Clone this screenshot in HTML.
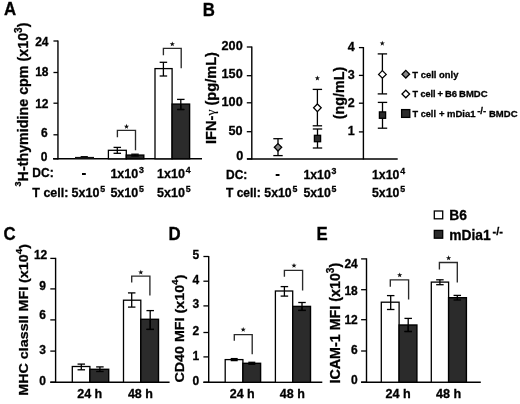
<!DOCTYPE html>
<html><head><meta charset="utf-8"><style>
html,body{margin:0;padding:0;background:#fff;width:520px;height:404px;overflow:hidden}
svg{display:block;filter:blur(0.3px)}
text{font-family:"Liberation Sans", sans-serif;fill:#000;stroke:#000;stroke-width:0.3px}
</style></head><body>
<svg width="520" height="404" viewBox="0 0 520 404">
<text x="0" y="0" font-size="16.8" font-weight="bold" transform="translate(3.9,15.3) scale(1,1.07)">A</text>
<line x1="57.95" y1="40.4" x2="57.95" y2="159.4" stroke="#000" stroke-width="1.4"/>
<line x1="53.45" y1="41.0" x2="57.95" y2="41.0" stroke="#000" stroke-width="1.3"/>
<text x="48.5" y="45.5" font-size="12" text-anchor="end" font-weight="bold" >24</text>
<line x1="53.45" y1="72.5" x2="57.95" y2="72.5" stroke="#000" stroke-width="1.3"/>
<text x="48.5" y="76.2" font-size="12" text-anchor="end" font-weight="bold" >18</text>
<line x1="53.45" y1="103.2" x2="57.95" y2="103.2" stroke="#000" stroke-width="1.3"/>
<text x="48.5" y="107.5" font-size="12" text-anchor="end" font-weight="bold" >12</text>
<line x1="53.45" y1="134.8" x2="57.95" y2="134.8" stroke="#000" stroke-width="1.3"/>
<text x="47.7" y="137.1" font-size="12" text-anchor="end" font-weight="bold" >6</text>
<line x1="53.45" y1="158.8" x2="57.95" y2="158.8" stroke="#000" stroke-width="1.3"/>
<text x="47.5" y="160.6" font-size="12" text-anchor="end" font-weight="bold" >0</text>
<line x1="53" y1="158.8" x2="202" y2="158.8" stroke="#000" stroke-width="1.5"/>
<text x="0" y="0" font-size="14.3" text-anchor="middle" font-weight="bold" transform="translate(22.6,104.5) rotate(-90)" dominant-baseline="central"><tspan font-size="9" dy="-4.6">3</tspan><tspan dy="4.6">H-thymidine cpm (x10</tspan><tspan font-size="10" dy="-5">3</tspan><tspan dy="5">)</tspan></text>
<rect x="75" y="156.9" width="19" height="2.0" fill="#111"/>
<rect x="80.5" y="156.0" width="7.5" height="1.2" rx="0.6" fill="#111"/>
<rect x="108.4" y="150.3" width="17.89999999999999" height="8.5" fill="#fff" stroke="#000" stroke-width="1.3"/>
<rect x="126.3" y="155.1" width="17.500000000000014" height="3.700000000000017" fill="#2b2b2b" stroke="#000" stroke-width="1.4"/>
<line x1="117.3" y1="147.4" x2="117.3" y2="153.3" stroke="#000" stroke-width="1.3"/>
<line x1="113.55" y1="147.4" x2="121.05" y2="147.4" stroke="#000" stroke-width="1.3"/>
<line x1="113.55" y1="153.3" x2="121.05" y2="153.3" stroke="#000" stroke-width="1.3"/>
<line x1="135.0" y1="154.2" x2="135.0" y2="156" stroke="#000" stroke-width="1.3"/>
<line x1="131.25" y1="154.2" x2="138.75" y2="154.2" stroke="#000" stroke-width="1.3"/>
<line x1="131.25" y1="156" x2="138.75" y2="156" stroke="#000" stroke-width="1.3"/>
<polyline points="117.4,137.2 117.4,130.4 135.5,130.4 135.5,150.3" fill="none" stroke="#2a2a2a" stroke-width="1.35"/>
<polygon points="126.50,123.86 127.17,125.64 129.07,125.72 127.58,126.91 128.09,128.74 126.50,127.69 124.91,128.74 125.42,126.91 123.93,125.72 125.83,125.64" fill="#111"/>
<rect x="155.0" y="68.6" width="17.099999999999994" height="90.20000000000002" fill="#fff" stroke="#000" stroke-width="1.3"/>
<rect x="172.1" y="104.1" width="17.5" height="54.70000000000002" fill="#2b2b2b" stroke="#000" stroke-width="1.4"/>
<line x1="163.4" y1="62.3" x2="163.4" y2="76" stroke="#000" stroke-width="1.3"/>
<line x1="159.65" y1="62.3" x2="167.15" y2="62.3" stroke="#000" stroke-width="1.3"/>
<line x1="159.65" y1="76" x2="167.15" y2="76" stroke="#000" stroke-width="1.3"/>
<line x1="180.8" y1="99.4" x2="180.8" y2="109.5" stroke="#000" stroke-width="1.3"/>
<line x1="177.05" y1="99.4" x2="184.55" y2="99.4" stroke="#000" stroke-width="1.3"/>
<line x1="177.05" y1="109.5" x2="184.55" y2="109.5" stroke="#000" stroke-width="1.3"/>
<line x1="177.5" y1="109.5" x2="184.1" y2="109.5" stroke="#000" stroke-width="1.3"/>
<line x1="180.8" y1="104.5" x2="180.8" y2="109.5" stroke="#000" stroke-width="1.3"/>
<polyline points="163.4,55.3 163.4,48.4 181.2,48.4 181.2,68.2" fill="none" stroke="#2a2a2a" stroke-width="1.35"/>
<polygon points="172.30,41.46 172.97,43.24 174.87,43.32 173.38,44.51 173.89,46.34 172.30,45.29 170.71,46.34 171.22,44.51 169.73,43.32 171.63,43.24" fill="#111"/>
<text x="32.3" y="176.9" font-size="12" text-anchor="start" font-weight="bold" >DC:</text>
<rect x="82.0" y="173.0" width="3.8" height="2.0" fill="#000"/>
<text x="110.4" y="177.6" font-size="12.5" text-anchor="start" font-weight="bold" >1x10<tspan font-size="8.8" dx="0.8" dy="-5.0">3</tspan></text>
<text x="157.1" y="177.6" font-size="12.5" text-anchor="start" font-weight="bold" >1x10<tspan font-size="8.8" dx="0.8" dy="-5.0">4</tspan></text>
<text x="32.3" y="196.6" font-size="12.5" text-anchor="start" font-weight="bold" >T cell:</text>
<text x="71.6" y="196.6" font-size="12.5" text-anchor="start" font-weight="bold" >5x10<tspan font-size="8.8" dx="0.8" dy="-5.0">5</tspan></text>
<text x="110.4" y="196.6" font-size="12.5" text-anchor="start" font-weight="bold" >5x10<tspan font-size="8.8" dx="0.8" dy="-5.0">5</tspan></text>
<text x="157.1" y="196.6" font-size="12.5" text-anchor="start" font-weight="bold" >5x10<tspan font-size="8.8" dx="0.8" dy="-5.0">5</tspan></text>
<text x="0" y="0" font-size="16.8" font-weight="bold" transform="translate(202.8,15.8) scale(1,1.07)">B</text>
<line x1="251.8" y1="46.4" x2="251.8" y2="159.5" stroke="#000" stroke-width="1.4"/>
<line x1="246.8" y1="47.0" x2="251.8" y2="47.0" stroke="#000" stroke-width="1.3"/>
<text x="242.7" y="49.8" font-size="12.7" text-anchor="end" font-weight="bold" >200</text>
<line x1="246.8" y1="75.7" x2="251.8" y2="75.7" stroke="#000" stroke-width="1.3"/>
<text x="242.7" y="78.3" font-size="12.7" text-anchor="end" font-weight="bold" >150</text>
<line x1="246.8" y1="102.8" x2="251.8" y2="102.8" stroke="#000" stroke-width="1.3"/>
<text x="242.7" y="106.3" font-size="12.7" text-anchor="end" font-weight="bold" >100</text>
<line x1="246.8" y1="131.7" x2="251.8" y2="131.7" stroke="#000" stroke-width="1.3"/>
<text x="242.7" y="135.1" font-size="12.7" text-anchor="end" font-weight="bold" >50</text>
<line x1="246.8" y1="158.9" x2="251.8" y2="158.9" stroke="#000" stroke-width="1.3"/>
<text x="243.3" y="160.0" font-size="12.7" text-anchor="end" font-weight="bold" >0</text>
<line x1="247" y1="158.9" x2="397.7" y2="158.9" stroke="#000" stroke-width="1.5"/>
<line x1="363.4" y1="47.0" x2="363.4" y2="159.5" stroke="#000" stroke-width="1.4"/>
<line x1="358.9" y1="47.6" x2="363.4" y2="47.6" stroke="#000" stroke-width="1.3"/>
<text x="354.7" y="51.1" font-size="12.5" text-anchor="end" font-weight="bold" >4</text>
<line x1="358.9" y1="75.4" x2="363.4" y2="75.4" stroke="#000" stroke-width="1.3"/>
<text x="354.7" y="78.8" font-size="12.5" text-anchor="end" font-weight="bold" >3</text>
<line x1="358.9" y1="103.2" x2="363.4" y2="103.2" stroke="#000" stroke-width="1.3"/>
<text x="354.7" y="106.8" font-size="12.5" text-anchor="end" font-weight="bold" >2</text>
<line x1="358.9" y1="131.9" x2="363.4" y2="131.9" stroke="#000" stroke-width="1.3"/>
<text x="354.7" y="135.4" font-size="12.5" text-anchor="end" font-weight="bold" >1</text>
<text x="0" y="0" font-size="14.6" text-anchor="middle" font-weight="bold" transform="translate(211.3,98.0) rotate(-90)" dominant-baseline="central">IFN-<tspan font-family="Liberation Serif" font-weight="normal" font-size="13.5" dy="-1.6" stroke-width="0.15">&#947;</tspan><tspan dy="1.6"> (pg/mL)</tspan></text>
<text x="0" y="0" font-size="14.3" text-anchor="middle" font-weight="bold" transform="translate(338.6,92.95) rotate(-90)" dominant-baseline="central">(ng/mL)</text>
<line x1="278" y1="138.7" x2="278" y2="155.6" stroke="#000" stroke-width="1.3"/>
<line x1="273.3" y1="138.7" x2="282.7" y2="138.7" stroke="#000" stroke-width="1.3"/>
<line x1="273.3" y1="155.6" x2="282.7" y2="155.6" stroke="#000" stroke-width="1.3"/>
<polygon points="278,143.60000000000002 281.7,147.3 278,151.0 274.3,147.3" fill="#888" stroke="#000" stroke-width="1.3"/>
<line x1="317.4" y1="89.4" x2="317.4" y2="125.8" stroke="#000" stroke-width="1.3"/>
<line x1="312.7" y1="89.4" x2="322.09999999999997" y2="89.4" stroke="#000" stroke-width="1.3"/>
<line x1="312.7" y1="125.8" x2="322.09999999999997" y2="125.8" stroke="#000" stroke-width="1.3"/>
<polygon points="317.4,104.0 321.2,107.8 317.4,111.6 313.59999999999997,107.8" fill="#fff" stroke="#000" stroke-width="1.3"/>
<line x1="317.5" y1="129" x2="317.5" y2="148" stroke="#000" stroke-width="1.3"/>
<line x1="312.8" y1="129" x2="322.2" y2="129" stroke="#000" stroke-width="1.3"/>
<line x1="312.8" y1="148" x2="322.2" y2="148" stroke="#000" stroke-width="1.3"/>
<rect x="314.4" y="135.3" width="6.2000000000000455" height="6.399999999999977" fill="#2b2b2b" stroke="#000" stroke-width="1.3"/>
<polygon points="317.40,75.56 318.07,77.34 319.97,77.42 318.48,78.61 318.99,80.44 317.40,79.39 315.81,80.44 316.32,78.61 314.83,77.42 316.73,77.34" fill="#111"/>
<line x1="382.4" y1="53.9" x2="382.4" y2="93.9" stroke="#000" stroke-width="1.3"/>
<line x1="377.7" y1="53.9" x2="387.09999999999997" y2="53.9" stroke="#000" stroke-width="1.3"/>
<line x1="377.7" y1="93.9" x2="387.09999999999997" y2="93.9" stroke="#000" stroke-width="1.3"/>
<polygon points="382.4,70.60000000000001 386.2,74.4 382.4,78.2 378.59999999999997,74.4" fill="#fff" stroke="#000" stroke-width="1.3"/>
<line x1="382.5" y1="102.4" x2="382.5" y2="128.2" stroke="#000" stroke-width="1.3"/>
<line x1="377.8" y1="102.4" x2="387.2" y2="102.4" stroke="#000" stroke-width="1.3"/>
<line x1="377.8" y1="128.2" x2="387.2" y2="128.2" stroke="#000" stroke-width="1.3"/>
<rect x="379.4" y="111.9" width="6.2000000000000455" height="6.3999999999999915" fill="#2b2b2b" stroke="#000" stroke-width="1.3"/>
<polygon points="382.30,40.76 382.97,42.54 384.87,42.62 383.38,43.81 383.89,45.64 382.30,44.59 380.71,45.64 381.22,43.81 379.73,42.62 381.63,42.54" fill="#111"/>
<polygon points="405.8,70.4 409.6,74.2 405.8,78.0 402.0,74.2" fill="#888" stroke="#000" stroke-width="1.3"/>
<text x="412.3" y="77.9" font-size="9.45" text-anchor="start" font-weight="bold" >T cell only</text>
<polygon points="405.8,90.2 409.6,94 405.8,97.8 402.0,94" fill="#fff" stroke="#000" stroke-width="1.3"/>
<text x="412.4" y="97.3" font-size="9.5" font-weight="bold"><tspan font-size="9.05">T cell</tspan><tspan x="437.5">+</tspan><tspan x="444.9">B6</tspan><tspan x="459.1">BMDC</tspan></text>
<rect x="401.6" y="109.6" width="8.199999999999989" height="7.800000000000011" fill="#2b2b2b" stroke="#000" stroke-width="1.3"/>
<text x="412.6" y="117.3" font-size="9.5" font-weight="bold"><tspan font-size="9.15">T cell</tspan><tspan x="439.0">+</tspan><tspan x="447.0">mDia1</tspan><tspan x="477.2" y="114.0" font-size="9.5">-/-</tspan><tspan x="489.0" y="117.3">BMDC</tspan></text>
<text x="226.0" y="178.9" font-size="12" text-anchor="start" font-weight="bold" >DC:</text>
<rect x="275.7" y="174.0" width="3.8" height="2.0" fill="#000"/>
<text x="303.4" y="179.2" font-size="12.3" text-anchor="start" font-weight="bold" >1x10<tspan font-size="8.8" dx="0.8" dy="-5.0">3</tspan></text>
<text x="372.0" y="179.2" font-size="12.3" text-anchor="start" font-weight="bold" >1x10<tspan font-size="8.8" dx="0.8" dy="-5.0">4</tspan></text>
<text x="226.0" y="196.6" font-size="12" text-anchor="start" font-weight="bold" >T cell:</text>
<text x="264.3" y="196.6" font-size="12.3" text-anchor="start" font-weight="bold" >5x10<tspan font-size="8.8" dx="0.8" dy="-5.0">5</tspan></text>
<text x="303.4" y="196.6" font-size="12.3" text-anchor="start" font-weight="bold" >5x10<tspan font-size="8.8" dx="0.8" dy="-5.0">5</tspan></text>
<text x="372.0" y="196.6" font-size="12.3" text-anchor="start" font-weight="bold" >5x10<tspan font-size="8.8" dx="0.8" dy="-5.0">5</tspan></text>
<text x="0" y="0" font-size="16.8" font-weight="bold" transform="translate(3.4,239.8) scale(1,1.07)">C</text>
<line x1="55.6" y1="257.79999999999995" x2="55.6" y2="382.8" stroke="#000" stroke-width="1.4"/>
<line x1="50.300000000000004" y1="258.4" x2="55.6" y2="258.4" stroke="#000" stroke-width="1.3"/>
<text x="47.3" y="259.0" font-size="12" text-anchor="end" font-weight="bold" >12</text>
<line x1="50.300000000000004" y1="288.9" x2="55.6" y2="288.9" stroke="#000" stroke-width="1.3"/>
<text x="46.0" y="289.8" font-size="12" text-anchor="end" font-weight="bold" >9</text>
<line x1="50.300000000000004" y1="319.9" x2="55.6" y2="319.9" stroke="#000" stroke-width="1.3"/>
<text x="46.0" y="319.4" font-size="12" text-anchor="end" font-weight="bold" >6</text>
<line x1="50.300000000000004" y1="351.1" x2="55.6" y2="351.1" stroke="#000" stroke-width="1.3"/>
<text x="46.0" y="353.7" font-size="12" text-anchor="end" font-weight="bold" >3</text>
<line x1="50.300000000000004" y1="382.2" x2="55.6" y2="382.2" stroke="#000" stroke-width="1.3"/>
<text x="45.9" y="385.0" font-size="12" text-anchor="end" font-weight="bold" >0</text>
<line x1="50.3" y1="382.2" x2="169.6" y2="382.2" stroke="#000" stroke-width="1.5"/>
<text x="0" y="0" font-size="14.3" text-anchor="middle" font-weight="bold" transform="translate(23.5,319.8) rotate(-90) scale(1,0.87)" dominant-baseline="central">MHC classII MFI (x10<tspan font-size="10" dy="-5">4</tspan><tspan dy="5">)</tspan></text>
<rect x="72.3" y="366.5" width="17.60000000000001" height="15.699999999999989" fill="#fff" stroke="#000" stroke-width="1.3"/>
<rect x="89.9" y="369.3" width="18.799999999999997" height="12.899999999999977" fill="#2b2b2b" stroke="#000" stroke-width="1.4"/>
<line x1="81.3" y1="364.1" x2="81.3" y2="369.8" stroke="#000" stroke-width="1.3"/>
<line x1="77.55" y1="364.1" x2="85.05" y2="364.1" stroke="#000" stroke-width="1.3"/>
<line x1="77.55" y1="369.8" x2="85.05" y2="369.8" stroke="#000" stroke-width="1.3"/>
<line x1="99.9" y1="366.9" x2="99.9" y2="371.5" stroke="#000" stroke-width="1.3"/>
<line x1="96.15" y1="366.9" x2="103.65" y2="366.9" stroke="#000" stroke-width="1.3"/>
<line x1="96.15" y1="371.5" x2="103.65" y2="371.5" stroke="#000" stroke-width="1.3"/>
<rect x="123.5" y="300.2" width="17.30000000000001" height="82.0" fill="#fff" stroke="#000" stroke-width="1.3"/>
<rect x="140.8" y="319.3" width="17.69999999999999" height="62.89999999999998" fill="#2b2b2b" stroke="#000" stroke-width="1.4"/>
<line x1="131.7" y1="292.9" x2="131.7" y2="307.1" stroke="#000" stroke-width="1.3"/>
<line x1="127.94999999999999" y1="292.9" x2="135.45" y2="292.9" stroke="#000" stroke-width="1.3"/>
<line x1="127.94999999999999" y1="307.1" x2="135.45" y2="307.1" stroke="#000" stroke-width="1.3"/>
<line x1="150.2" y1="310.6" x2="150.2" y2="329.4" stroke="#000" stroke-width="1.3"/>
<line x1="146.45" y1="310.6" x2="153.95" y2="310.6" stroke="#000" stroke-width="1.3"/>
<line x1="146.45" y1="329.4" x2="153.95" y2="329.4" stroke="#000" stroke-width="1.3"/>
<line x1="146.5" y1="329.4" x2="153.9" y2="329.4" stroke="#000" stroke-width="1.3"/>
<line x1="150.2" y1="319.9" x2="150.2" y2="329.4" stroke="#000" stroke-width="1.3"/>
<polyline points="131.7,282.5 131.7,276.1 149.9,276.1 149.9,295.5" fill="none" stroke="#2a2a2a" stroke-width="1.35"/>
<polygon points="140.80,269.66 141.47,271.44 143.37,271.52 141.88,272.71 142.39,274.54 140.80,273.49 139.21,274.54 139.72,272.71 138.23,271.52 140.13,271.44" fill="#111"/>
<text x="77.2" y="398.2" font-size="12.5" text-anchor="start" font-weight="bold" >24 h</text>
<text x="127.9" y="398.2" font-size="12.5" text-anchor="start" font-weight="bold" >48 h</text>
<text x="0" y="0" font-size="16.8" font-weight="bold" transform="translate(168.4,239.7) scale(1,1.07)">D</text>
<line x1="208.7" y1="255.9" x2="208.7" y2="382.90000000000003" stroke="#000" stroke-width="1.4"/>
<line x1="203.39999999999998" y1="256.5" x2="208.7" y2="256.5" stroke="#000" stroke-width="1.3"/>
<text x="199.2" y="258.7" font-size="12" text-anchor="end" font-weight="bold" >5</text>
<line x1="203.39999999999998" y1="281.2" x2="208.7" y2="281.2" stroke="#000" stroke-width="1.3"/>
<text x="199.2" y="283.8" font-size="12" text-anchor="end" font-weight="bold" >4</text>
<line x1="203.39999999999998" y1="305.9" x2="208.7" y2="305.9" stroke="#000" stroke-width="1.3"/>
<text x="199.2" y="308.4" font-size="12" text-anchor="end" font-weight="bold" >3</text>
<line x1="203.39999999999998" y1="332.5" x2="208.7" y2="332.5" stroke="#000" stroke-width="1.3"/>
<text x="199.2" y="335.4" font-size="12" text-anchor="end" font-weight="bold" >2</text>
<line x1="203.39999999999998" y1="356.9" x2="208.7" y2="356.9" stroke="#000" stroke-width="1.3"/>
<text x="199.2" y="360.2" font-size="12" text-anchor="end" font-weight="bold" >1</text>
<line x1="203.39999999999998" y1="382.3" x2="208.7" y2="382.3" stroke="#000" stroke-width="1.3"/>
<text x="199.2" y="384.8" font-size="12" text-anchor="end" font-weight="bold" >0</text>
<line x1="203.4" y1="382.3" x2="322.3" y2="382.3" stroke="#000" stroke-width="1.5"/>
<text x="0" y="0" font-size="14.3" text-anchor="middle" font-weight="bold" transform="translate(178.8,328.55) rotate(-90) scale(1,0.95)" dominant-baseline="central">CD40 MFI (x10<tspan font-size="10" dy="-5">4</tspan><tspan dy="5">)</tspan></text>
<rect x="225.2" y="359.6" width="17.700000000000017" height="22.69999999999999" fill="#fff" stroke="#000" stroke-width="1.3"/>
<rect x="242.9" y="363.3" width="17.700000000000017" height="19.0" fill="#2b2b2b" stroke="#000" stroke-width="1.4"/>
<line x1="234.2" y1="358.6" x2="234.2" y2="360.6" stroke="#000" stroke-width="1.3"/>
<line x1="230.7" y1="358.6" x2="237.7" y2="358.6" stroke="#000" stroke-width="1.3"/>
<line x1="230.7" y1="360.6" x2="237.7" y2="360.6" stroke="#000" stroke-width="1.3"/>
<line x1="251.8" y1="362.3" x2="251.8" y2="364.3" stroke="#000" stroke-width="1.3"/>
<line x1="248.3" y1="362.3" x2="255.3" y2="362.3" stroke="#000" stroke-width="1.3"/>
<line x1="248.3" y1="364.3" x2="255.3" y2="364.3" stroke="#000" stroke-width="1.3"/>
<rect x="275.4" y="291" width="17.30000000000001" height="91.30000000000001" fill="#fff" stroke="#000" stroke-width="1.3"/>
<rect x="292.7" y="306.4" width="17.80000000000001" height="75.90000000000003" fill="#2b2b2b" stroke="#000" stroke-width="1.4"/>
<line x1="284.4" y1="286.6" x2="284.4" y2="296.1" stroke="#000" stroke-width="1.3"/>
<line x1="280.65" y1="286.6" x2="288.15" y2="286.6" stroke="#000" stroke-width="1.3"/>
<line x1="280.65" y1="296.1" x2="288.15" y2="296.1" stroke="#000" stroke-width="1.3"/>
<line x1="302" y1="302.5" x2="302" y2="310.4" stroke="#000" stroke-width="1.3"/>
<line x1="298.25" y1="302.5" x2="305.75" y2="302.5" stroke="#000" stroke-width="1.3"/>
<line x1="298.25" y1="310.4" x2="305.75" y2="310.4" stroke="#000" stroke-width="1.3"/>
<line x1="298.3" y1="310.4" x2="305.7" y2="310.4" stroke="#000" stroke-width="1.3"/>
<line x1="302" y1="306.9" x2="302" y2="310.4" stroke="#000" stroke-width="1.3"/>
<polyline points="234.3,340.8 234.3,334.6 252.2,334.6 252.2,354.3" fill="none" stroke="#2a2a2a" stroke-width="1.35"/>
<polygon points="243.20,326.96 243.87,328.74 245.77,328.82 244.28,330.01 244.79,331.84 243.20,330.79 241.61,331.84 242.12,330.01 240.63,328.82 242.53,328.74" fill="#111"/>
<polyline points="284.4,276.7 284.4,270.4 302.6,270.4 302.6,290.6" fill="none" stroke="#2a2a2a" stroke-width="1.35"/>
<polygon points="294.00,262.96 294.67,264.74 296.57,264.82 295.08,266.01 295.59,267.84 294.00,266.79 292.41,267.84 292.92,266.01 291.43,264.82 293.33,264.74" fill="#111"/>
<text x="229.7" y="398.2" font-size="12.5" text-anchor="start" font-weight="bold" >24 h</text>
<text x="279.8" y="398.2" font-size="12.5" text-anchor="start" font-weight="bold" >48 h</text>
<text x="0" y="0" font-size="16.8" font-weight="bold" transform="translate(316.4,240.0) scale(1,1.07)">E</text>
<line x1="366.5" y1="258.29999999999995" x2="366.5" y2="382.8" stroke="#000" stroke-width="1.4"/>
<line x1="361.1" y1="258.9" x2="366.5" y2="258.9" stroke="#000" stroke-width="1.3"/>
<text x="357.8" y="267.6" font-size="12" text-anchor="end" font-weight="bold" >24</text>
<line x1="361.1" y1="289.7" x2="366.5" y2="289.7" stroke="#000" stroke-width="1.3"/>
<text x="357.8" y="294.8" font-size="12" text-anchor="end" font-weight="bold" >18</text>
<line x1="361.1" y1="319.7" x2="366.5" y2="319.7" stroke="#000" stroke-width="1.3"/>
<text x="357.8" y="323.5" font-size="12" text-anchor="end" font-weight="bold" >12</text>
<line x1="361.1" y1="351.0" x2="366.5" y2="351.0" stroke="#000" stroke-width="1.3"/>
<text x="357.8" y="353.8" font-size="12" text-anchor="end" font-weight="bold" >6</text>
<line x1="361.1" y1="382.2" x2="366.5" y2="382.2" stroke="#000" stroke-width="1.3"/>
<text x="357.8" y="383.6" font-size="12" text-anchor="end" font-weight="bold" >0</text>
<line x1="361.1" y1="382.2" x2="480.8" y2="382.2" stroke="#000" stroke-width="1.5"/>
<text x="0" y="0" font-size="14.3" text-anchor="middle" font-weight="bold" transform="translate(334.8,323.2) rotate(-90)" dominant-baseline="central">ICAM-1 MFI (x10<tspan font-size="10" dy="-5">3</tspan><tspan dy="5">)</tspan></text>
<rect x="381.3" y="302.2" width="17.80000000000001" height="80.0" fill="#fff" stroke="#000" stroke-width="1.3"/>
<rect x="399.1" y="325" width="17.799999999999955" height="57.19999999999999" fill="#2b2b2b" stroke="#000" stroke-width="1.4"/>
<line x1="390.7" y1="295.6" x2="390.7" y2="309.5" stroke="#000" stroke-width="1.3"/>
<line x1="386.95" y1="295.6" x2="394.45" y2="295.6" stroke="#000" stroke-width="1.3"/>
<line x1="386.95" y1="309.5" x2="394.45" y2="309.5" stroke="#000" stroke-width="1.3"/>
<line x1="408.2" y1="318.4" x2="408.2" y2="331.5" stroke="#000" stroke-width="1.3"/>
<line x1="404.45" y1="318.4" x2="411.95" y2="318.4" stroke="#000" stroke-width="1.3"/>
<line x1="404.45" y1="331.5" x2="411.95" y2="331.5" stroke="#000" stroke-width="1.3"/>
<line x1="404.5" y1="331.5" x2="411.9" y2="331.5" stroke="#000" stroke-width="1.3"/>
<line x1="408.2" y1="325.5" x2="408.2" y2="331.5" stroke="#000" stroke-width="1.3"/>
<rect x="431.3" y="282.1" width="17.30000000000001" height="100.09999999999997" fill="#fff" stroke="#000" stroke-width="1.3"/>
<rect x="448.6" y="297.7" width="17.799999999999955" height="84.5" fill="#2b2b2b" stroke="#000" stroke-width="1.4"/>
<line x1="439.9" y1="279.8" x2="439.9" y2="284.7" stroke="#000" stroke-width="1.3"/>
<line x1="436.15" y1="279.8" x2="443.65" y2="279.8" stroke="#000" stroke-width="1.3"/>
<line x1="436.15" y1="284.7" x2="443.65" y2="284.7" stroke="#000" stroke-width="1.3"/>
<line x1="457.3" y1="295.4" x2="457.3" y2="300" stroke="#000" stroke-width="1.3"/>
<line x1="453.55" y1="295.4" x2="461.05" y2="295.4" stroke="#000" stroke-width="1.3"/>
<line x1="453.55" y1="300" x2="461.05" y2="300" stroke="#000" stroke-width="1.3"/>
<polyline points="390.3,286.7 390.3,279.8 408.6,279.8 408.6,299.6" fill="none" stroke="#2a2a2a" stroke-width="1.35"/>
<polygon points="399.70,272.46 400.37,274.24 402.27,274.32 400.78,275.51 401.29,277.34 399.70,276.29 398.11,277.34 398.62,275.51 397.13,274.32 399.03,274.24" fill="#111"/>
<polyline points="439.4,269.4 439.4,262.5 457.3,262.5 457.3,282.6" fill="none" stroke="#2a2a2a" stroke-width="1.35"/>
<polygon points="448.60,255.36 449.27,257.14 451.17,257.22 449.68,258.41 450.19,260.24 448.60,259.19 447.01,260.24 447.52,258.41 446.03,257.22 447.93,257.14" fill="#111"/>
<text x="385.4" y="398.0" font-size="12.6" text-anchor="start" font-weight="bold" >24 h</text>
<text x="436.1" y="398.0" font-size="12.6" text-anchor="start" font-weight="bold" >48 h</text>
<rect x="434.3" y="211.0" width="8.399999999999977" height="7.800000000000011" fill="#fff" stroke="#000" stroke-width="1.3"/>
<text x="449.3" y="219.9" font-size="13.8" text-anchor="start" font-weight="bold" >B6</text>
<rect x="434.3" y="230.4" width="8.399999999999977" height="7.799999999999983" fill="#2b2b2b" stroke="#000" stroke-width="1.3"/>
<text x="449.3" y="239.6" font-size="13.8" text-anchor="start" font-weight="bold" >mDia1<tspan font-size="11" dx="1.8" dy="-5">-/-</tspan></text>
</svg>
</body></html>
